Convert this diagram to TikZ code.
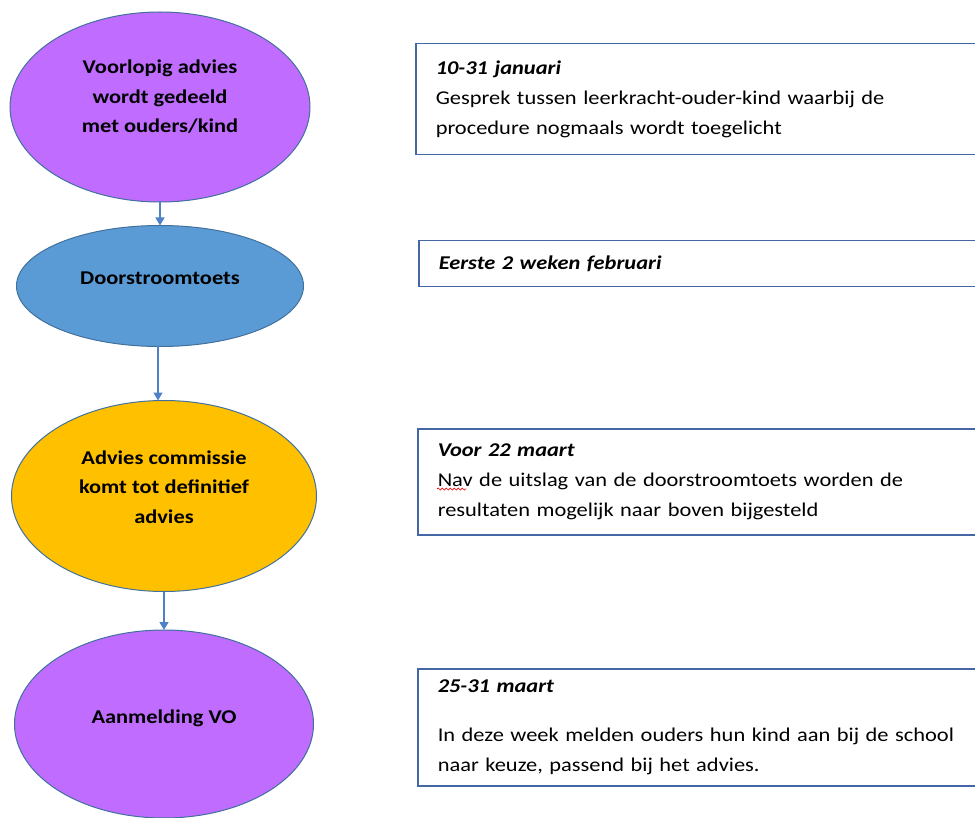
\documentclass[tikz,border=0pt]{standalone}
\usepackage{fontspec}
\setmainfont[FakeStretch=1.15]{Carlito}
\usetikzlibrary{arrows.meta, positioning, shapes.geometric, decorations.pathmorphing}

\definecolor{paars}{HTML}{BF6CFF}
\definecolor{blauw}{HTML}{5B9BD5}
\definecolor{geel}{HTML}{FFC000}
\definecolor{rand}{HTML}{41719C}
\definecolor{pijlblauw}{HTML}{4F81C7}
\definecolor{kaderrand}{HTML}{4667A6}

\begin{document}
\begin{tikzpicture}[x=1pt, y=-1pt,
    stap/.style={ellipse, draw=rand, line width=1pt, inner sep=0pt, outer sep=0pt},
    staptekst/.style={align=center, font=\fontsize{19.5}{29.5}\selectfont\bfseries},
    datum/.style={draw=kaderrand, line width=1.5pt, anchor=north west, align=left,
        text width=535pt, inner xsep=20pt, inner ysep=0pt, font=\fontsize{19.5}{30}\selectfont},
    pijl/.style={draw=pijlblauw, line width=1.4pt, -{Triangle[length=8pt, width=9pt]}}]
    % Page size
    \useasboundingbox (0,0) rectangle (975,818);

    % Steps (left column)
    \node[stap, fill=paars, minimum width=300pt, minimum height=190pt] (voorlopig) at (160,107) {};
    \node[stap, fill=blauw, minimum width=287pt, minimum height=121pt] (toets) at (160,286) {};
    \node[stap, fill=geel, minimum width=305pt, minimum height=191pt] (commissie) at (164,496) {};
    \node[stap, fill=paars, minimum width=299pt, minimum height=188pt] (aanmelding) at (164,724) {};

    % Step texts (a bit above the centre)
    \node[staptekst] (voorlopigTekst) at ([yshift=10pt]voorlopig.center) {Voorlopig advies\\wordt gedeeld\\met ouders/kind};
    \node[staptekst] (toetsTekst) at ([yshift=8pt]toets.center) {Doorstroomtoets};
    \node[staptekst] (commissieTekst) at ([yshift=9pt]commissie.center) {Advies commissie\\komt tot definitief\\advies};
    \node[staptekst] (aanmeldingTekst) at ([yshift=6pt]aanmelding.center) {Aanmelding VO};

    % Arrows between the steps
    \draw[pijl] (voorlopig) -- (toets);
    \draw[pijl] ([xshift=-2pt]toets.south) -- ([xshift=-2pt]toets.south |- commissie.north);
    \draw[pijl] (commissie) -- (aanmelding);

    % Dates (right column)
    \node[datum, minimum height=111pt] (januari) at (415,43)
        {\textbf{\textit{10-31 januari}}\\Gesprek tussen leerkracht-ouder-kind waarbij de\\procedure nogmaals wordt toegelicht};
    \node[datum, minimum height=46pt] (februari) at (418,240)
        {\textbf{\textit{Eerste 2 weken februari}}};
    \node[datum, minimum height=106pt] (maart) at (417,428)
        {\textbf{\textit{Voor 22 maart}}\\Nav de uitslag van de doorstroomtoets worden de\\resultaten mogelijk naar boven bijgesteld};
    \node[datum, minimum height=117pt] (aanmeldweek) at (417,668)
        {\textbf{\textit{25-31 maart}}\\[19pt]In deze week melden ouders hun kind aan bij de school\\naar keuze, passend bij het advies.};

    % Spelling mark under "Nav"
    \draw[red, line width=0.7pt, decorate, decoration={snake, amplitude=1pt, segment length=4pt}] (437,489) -- (466,489);
\end{tikzpicture}
\end{document}
